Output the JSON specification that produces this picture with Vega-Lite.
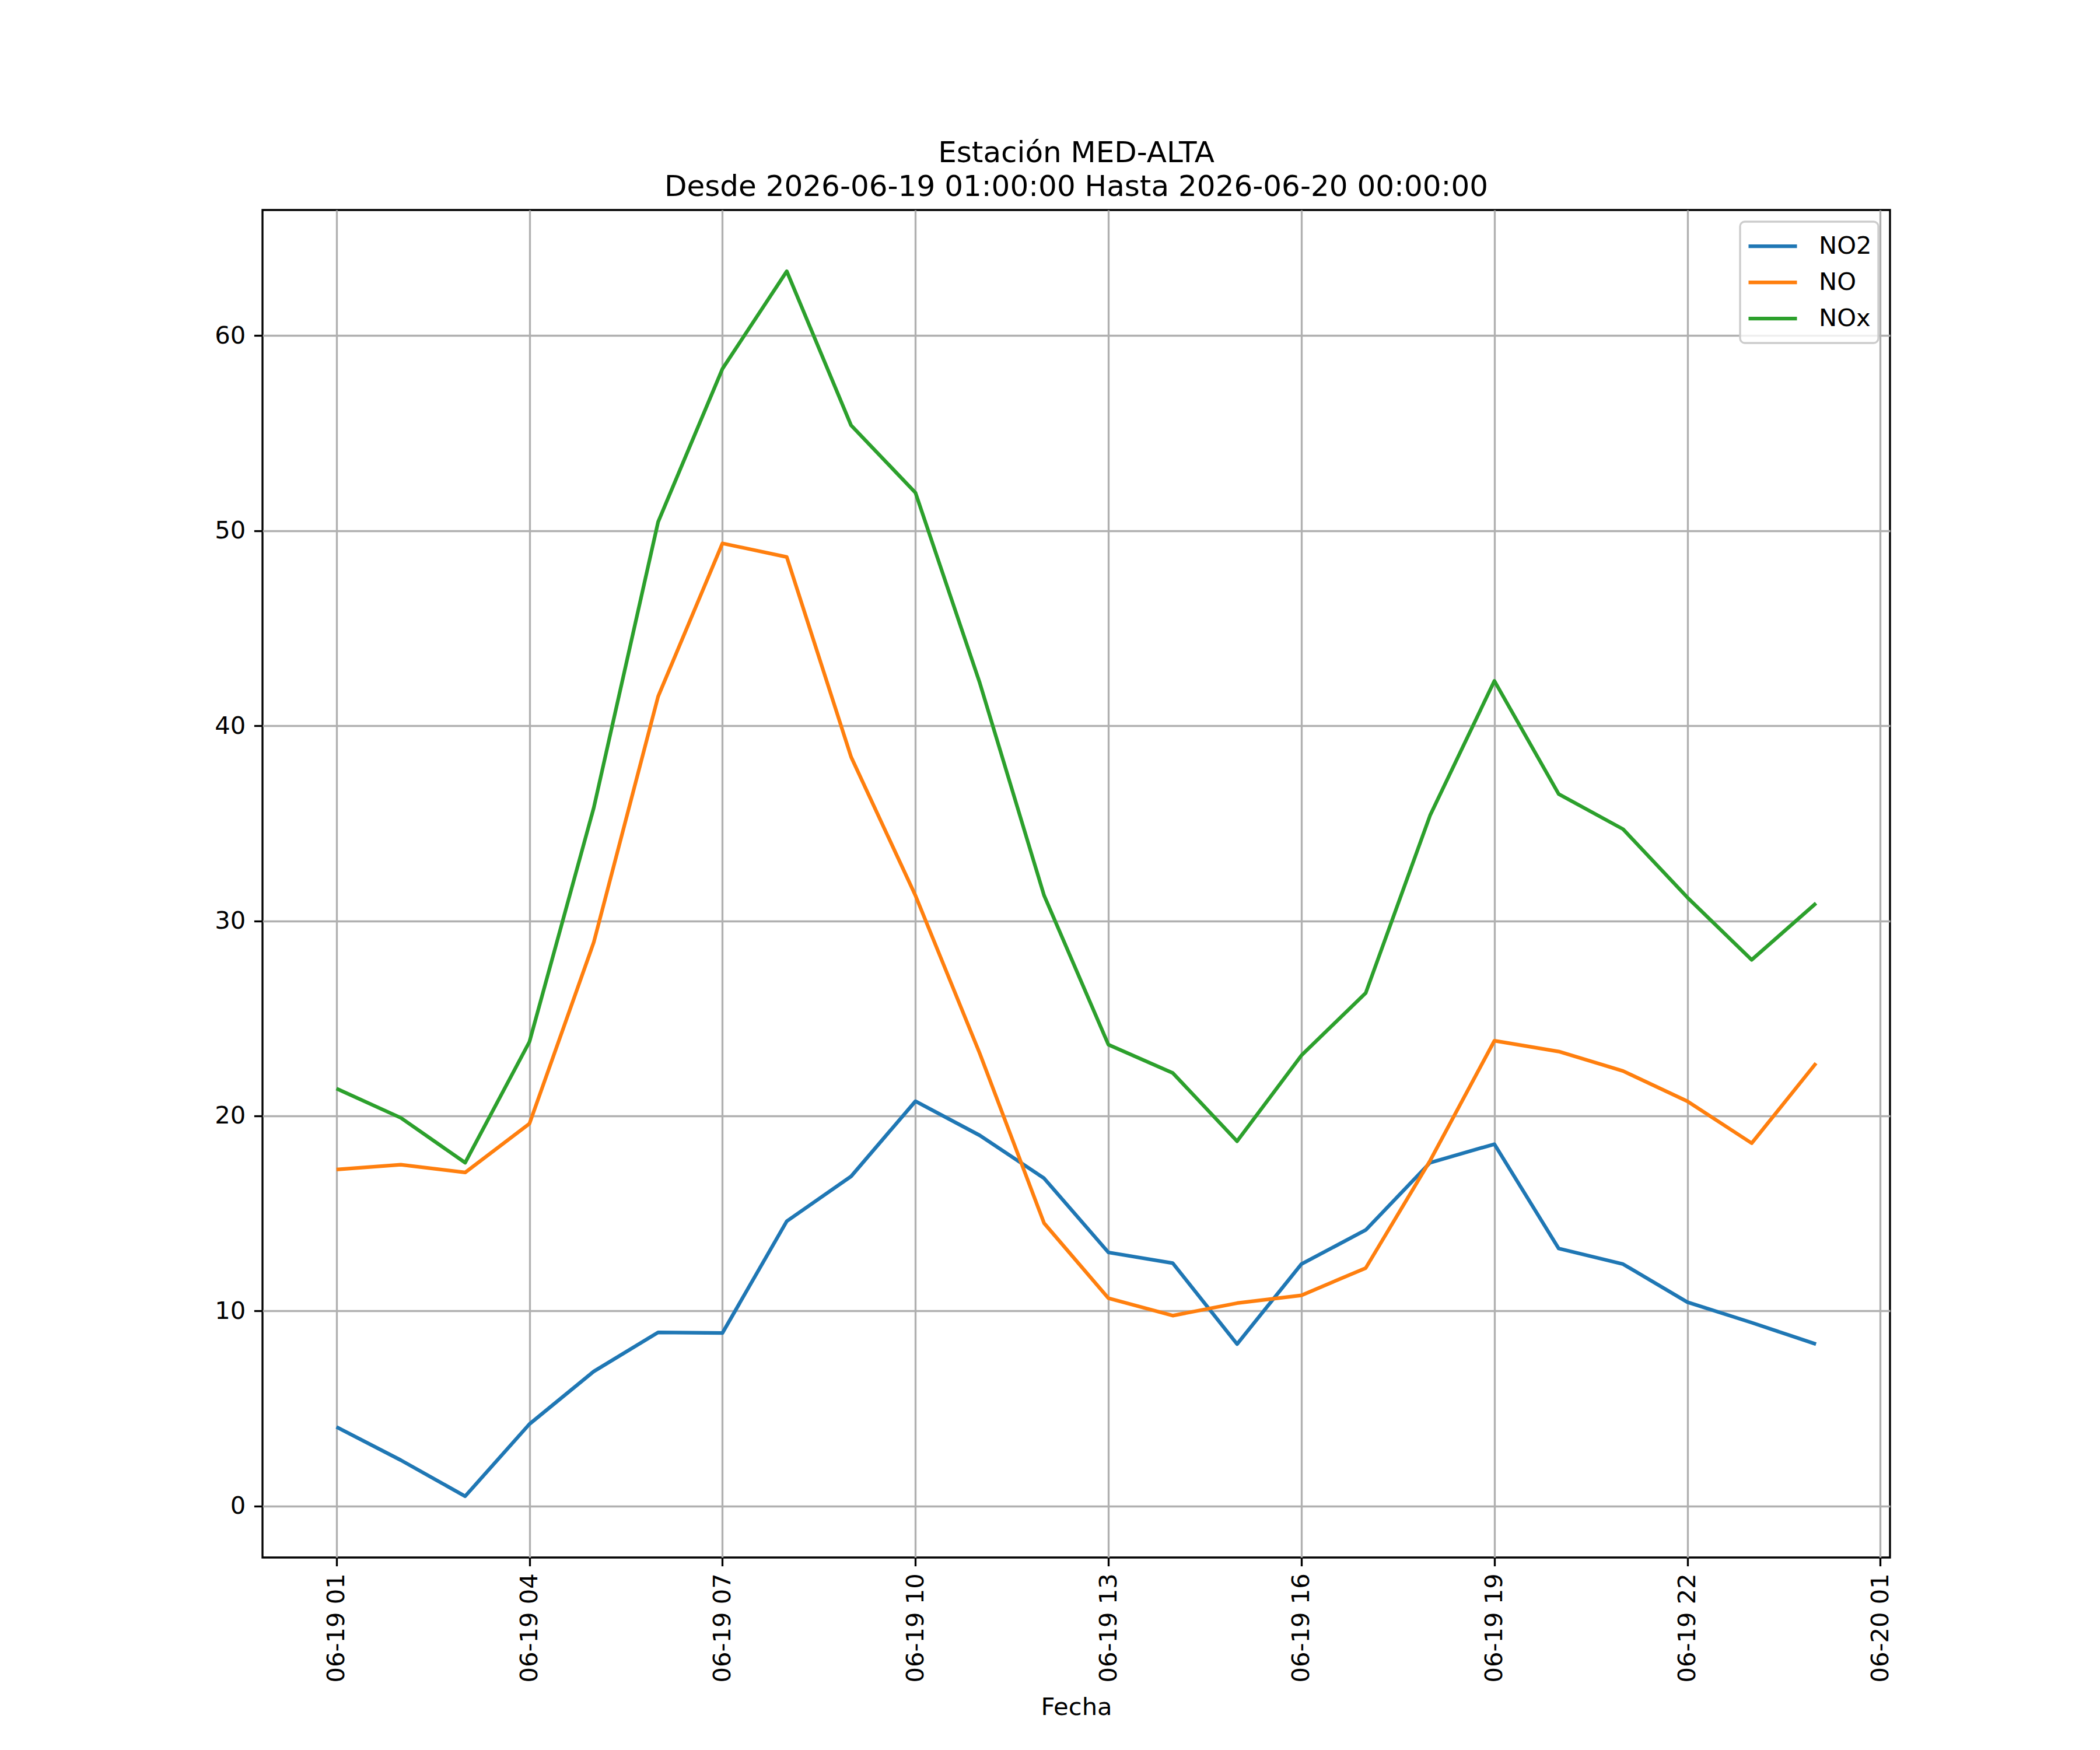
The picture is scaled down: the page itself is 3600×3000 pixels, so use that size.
{
  "$schema": "https://vega.github.io/schema/vega-lite/v6.json",
  "autosize": {"type": "none"},
  "padding": {"left": 450, "top": 360, "right": 360, "bottom": 330},
  "width": 2790,
  "height": 2310,
  "background": "white",
  "title": {
    "text": ["Estación MED-ALTA", "Desde 2026-06-19 01:00:00 Hasta 2026-06-20 00:00:00"],
    "anchor": "middle",
    "frame": "group",
    "fontSize": 50,
    "fontWeight": "normal",
    "font": "DejaVu Sans",
    "color": "black",
    "lineHeight": 58,
    "offset": 14
  },
  "config": {
    "font": "DejaVu Sans",
    "view": {"stroke": "black", "strokeWidth": 3.33}
  },
  "data": {
    "values": [
      {"fecha": "2026-06-19T01:00:00", "contaminante": "NO2", "valor": 4.05},
      {"fecha": "2026-06-19T02:00:00", "contaminante": "NO2", "valor": 2.35},
      {"fecha": "2026-06-19T03:00:00", "contaminante": "NO2", "valor": 0.5},
      {"fecha": "2026-06-19T04:00:00", "contaminante": "NO2", "valor": 4.2},
      {"fecha": "2026-06-19T05:00:00", "contaminante": "NO2", "valor": 6.9},
      {"fecha": "2026-06-19T06:00:00", "contaminante": "NO2", "valor": 8.9},
      {"fecha": "2026-06-19T07:00:00", "contaminante": "NO2", "valor": 8.87},
      {"fecha": "2026-06-19T08:00:00", "contaminante": "NO2", "valor": 14.6},
      {"fecha": "2026-06-19T09:00:00", "contaminante": "NO2", "valor": 16.9},
      {"fecha": "2026-06-19T10:00:00", "contaminante": "NO2", "valor": 20.75},
      {"fecha": "2026-06-19T11:00:00", "contaminante": "NO2", "valor": 19.0},
      {"fecha": "2026-06-19T12:00:00", "contaminante": "NO2", "valor": 16.8},
      {"fecha": "2026-06-19T13:00:00", "contaminante": "NO2", "valor": 13.0},
      {"fecha": "2026-06-19T14:00:00", "contaminante": "NO2", "valor": 12.45},
      {"fecha": "2026-06-19T15:00:00", "contaminante": "NO2", "valor": 8.3},
      {"fecha": "2026-06-19T16:00:00", "contaminante": "NO2", "valor": 12.4},
      {"fecha": "2026-06-19T17:00:00", "contaminante": "NO2", "valor": 14.15},
      {"fecha": "2026-06-19T18:00:00", "contaminante": "NO2", "valor": 17.6},
      {"fecha": "2026-06-19T19:00:00", "contaminante": "NO2", "valor": 18.55},
      {"fecha": "2026-06-19T20:00:00", "contaminante": "NO2", "valor": 13.2},
      {"fecha": "2026-06-19T21:00:00", "contaminante": "NO2", "valor": 12.4},
      {"fecha": "2026-06-19T22:00:00", "contaminante": "NO2", "valor": 10.45},
      {"fecha": "2026-06-19T23:00:00", "contaminante": "NO2", "valor": 9.4},
      {"fecha": "2026-06-20T00:00:00", "contaminante": "NO2", "valor": 8.3},
      {"fecha": "2026-06-19T01:00:00", "contaminante": "NO", "valor": 17.25},
      {"fecha": "2026-06-19T02:00:00", "contaminante": "NO", "valor": 17.5},
      {"fecha": "2026-06-19T03:00:00", "contaminante": "NO", "valor": 17.1},
      {"fecha": "2026-06-19T04:00:00", "contaminante": "NO", "valor": 19.6},
      {"fecha": "2026-06-19T05:00:00", "contaminante": "NO", "valor": 28.9},
      {"fecha": "2026-06-19T06:00:00", "contaminante": "NO", "valor": 41.5},
      {"fecha": "2026-06-19T07:00:00", "contaminante": "NO", "valor": 49.35},
      {"fecha": "2026-06-19T08:00:00", "contaminante": "NO", "valor": 48.65},
      {"fecha": "2026-06-19T09:00:00", "contaminante": "NO", "valor": 38.4},
      {"fecha": "2026-06-19T10:00:00", "contaminante": "NO", "valor": 31.3},
      {"fecha": "2026-06-19T11:00:00", "contaminante": "NO", "valor": 23.2},
      {"fecha": "2026-06-19T12:00:00", "contaminante": "NO", "valor": 14.5},
      {"fecha": "2026-06-19T13:00:00", "contaminante": "NO", "valor": 10.65},
      {"fecha": "2026-06-19T14:00:00", "contaminante": "NO", "valor": 9.76},
      {"fecha": "2026-06-19T15:00:00", "contaminante": "NO", "valor": 10.4},
      {"fecha": "2026-06-19T16:00:00", "contaminante": "NO", "valor": 10.8},
      {"fecha": "2026-06-19T17:00:00", "contaminante": "NO", "valor": 12.2},
      {"fecha": "2026-06-19T18:00:00", "contaminante": "NO", "valor": 17.7},
      {"fecha": "2026-06-19T19:00:00", "contaminante": "NO", "valor": 23.85},
      {"fecha": "2026-06-19T20:00:00", "contaminante": "NO", "valor": 23.3},
      {"fecha": "2026-06-19T21:00:00", "contaminante": "NO", "valor": 22.3},
      {"fecha": "2026-06-19T22:00:00", "contaminante": "NO", "valor": 20.75},
      {"fecha": "2026-06-19T23:00:00", "contaminante": "NO", "valor": 18.6},
      {"fecha": "2026-06-20T00:00:00", "contaminante": "NO", "valor": 22.7},
      {"fecha": "2026-06-19T01:00:00", "contaminante": "NOx", "valor": 21.4},
      {"fecha": "2026-06-19T02:00:00", "contaminante": "NOx", "valor": 19.9},
      {"fecha": "2026-06-19T03:00:00", "contaminante": "NOx", "valor": 17.6},
      {"fecha": "2026-06-19T04:00:00", "contaminante": "NOx", "valor": 23.8},
      {"fecha": "2026-06-19T05:00:00", "contaminante": "NOx", "valor": 35.8},
      {"fecha": "2026-06-19T06:00:00", "contaminante": "NOx", "valor": 50.45},
      {"fecha": "2026-06-19T07:00:00", "contaminante": "NOx", "valor": 58.3},
      {"fecha": "2026-06-19T08:00:00", "contaminante": "NOx", "valor": 63.3},
      {"fecha": "2026-06-19T09:00:00", "contaminante": "NOx", "valor": 55.4},
      {"fecha": "2026-06-19T10:00:00", "contaminante": "NOx", "valor": 51.95},
      {"fecha": "2026-06-19T11:00:00", "contaminante": "NOx", "valor": 42.2},
      {"fecha": "2026-06-19T12:00:00", "contaminante": "NOx", "valor": 31.3},
      {"fecha": "2026-06-19T13:00:00", "contaminante": "NOx", "valor": 23.65},
      {"fecha": "2026-06-19T14:00:00", "contaminante": "NOx", "valor": 22.2},
      {"fecha": "2026-06-19T15:00:00", "contaminante": "NOx", "valor": 18.7},
      {"fecha": "2026-06-19T16:00:00", "contaminante": "NOx", "valor": 23.1},
      {"fecha": "2026-06-19T17:00:00", "contaminante": "NOx", "valor": 26.3},
      {"fecha": "2026-06-19T18:00:00", "contaminante": "NOx", "valor": 35.4},
      {"fecha": "2026-06-19T19:00:00", "contaminante": "NOx", "valor": 42.3},
      {"fecha": "2026-06-19T20:00:00", "contaminante": "NOx", "valor": 36.5},
      {"fecha": "2026-06-19T21:00:00", "contaminante": "NOx", "valor": 34.7},
      {"fecha": "2026-06-19T22:00:00", "contaminante": "NOx", "valor": 31.2},
      {"fecha": "2026-06-19T23:00:00", "contaminante": "NOx", "valor": 28.0},
      {"fecha": "2026-06-20T00:00:00", "contaminante": "NOx", "valor": 30.9}
    ]
  },
  "mark": {"type": "line", "strokeWidth": 6.25, "strokeJoin": "round"},
  "encoding": {
    "x": {
      "field": "fecha",
      "type": "temporal",
      "title": "Fecha",
      "scale": {
        "domain": [
          {"year": 2026, "month": 6, "date": 18, "hours": 23, "minutes": 51},
          {"year": 2026, "month": 6, "date": 20, "hours": 1, "minutes": 9}
        ]
      },
      "axis": {
        "values": [
          {"year": 2026, "month": 6, "date": 19, "hours": 1},
          {"year": 2026, "month": 6, "date": 19, "hours": 4},
          {"year": 2026, "month": 6, "date": 19, "hours": 7},
          {"year": 2026, "month": 6, "date": 19, "hours": 10},
          {"year": 2026, "month": 6, "date": 19, "hours": 13},
          {"year": 2026, "month": 6, "date": 19, "hours": 16},
          {"year": 2026, "month": 6, "date": 19, "hours": 19},
          {"year": 2026, "month": 6, "date": 19, "hours": 22},
          {"year": 2026, "month": 6, "date": 20, "hours": 1}
        ],
        "format": "%m-%d %H",
        "labelAngle": 270,
        "labelFontSize": 41.7,
        "labelColor": "black",
        "labelPadding": 12,
        "labelLimit": 1000,
        "labelFlush": false,
        "labelOverlap": false,
        "tickSize": 14.6,
        "tickWidth": 3.33,
        "tickColor": "black",
        "domain": false,
        "grid": true,
        "gridColor": "#b0b0b0",
        "gridWidth": 3.33,
        "titleFontSize": 41.7,
        "titleFontWeight": "normal",
        "titleColor": "black",
        "titlePadding": 36
      }
    },
    "y": {
      "field": "valor",
      "type": "quantitative",
      "title": null,
      "scale": {"domain": [-2.64, 66.44], "nice": false, "zero": false},
      "axis": {
        "values": [0, 10, 20, 30, 40, 50, 60],
        "labelFontSize": 41.7,
        "labelColor": "black",
        "labelPadding": 14.6,
        "tickSize": 14.6,
        "tickWidth": 3.33,
        "tickColor": "black",
        "domain": false,
        "grid": true,
        "gridColor": "#b0b0b0",
        "gridWidth": 3.33
      }
    },
    "color": {
      "field": "contaminante",
      "type": "nominal",
      "title": null,
      "sort": ["NO2", "NO", "NOx"],
      "scale": {"domain": ["NO2", "NO", "NOx"], "range": ["#1f77b4", "#ff7f0e", "#2ca02c"]},
      "legend": {
        "orient": "top-right",
        "offset": 20,
        "padding": 11,
        "fillColor": "rgba(255,255,255,0.8)",
        "strokeColor": "#cccccc",
        "cornerRadius": 8,
        "symbolType": "stroke",
        "symbolSize": 6889,
        "symbolStrokeWidth": 6.25,
        "clipHeight": 62,
        "labelFontSize": 41.7,
        "labelColor": "black",
        "labelOffset": 34,
        "rowPadding": 0,
        "encode": {"legend": {"update": {"strokeWidth": {"value": 3.33}}}}
      }
    }
  }
}
